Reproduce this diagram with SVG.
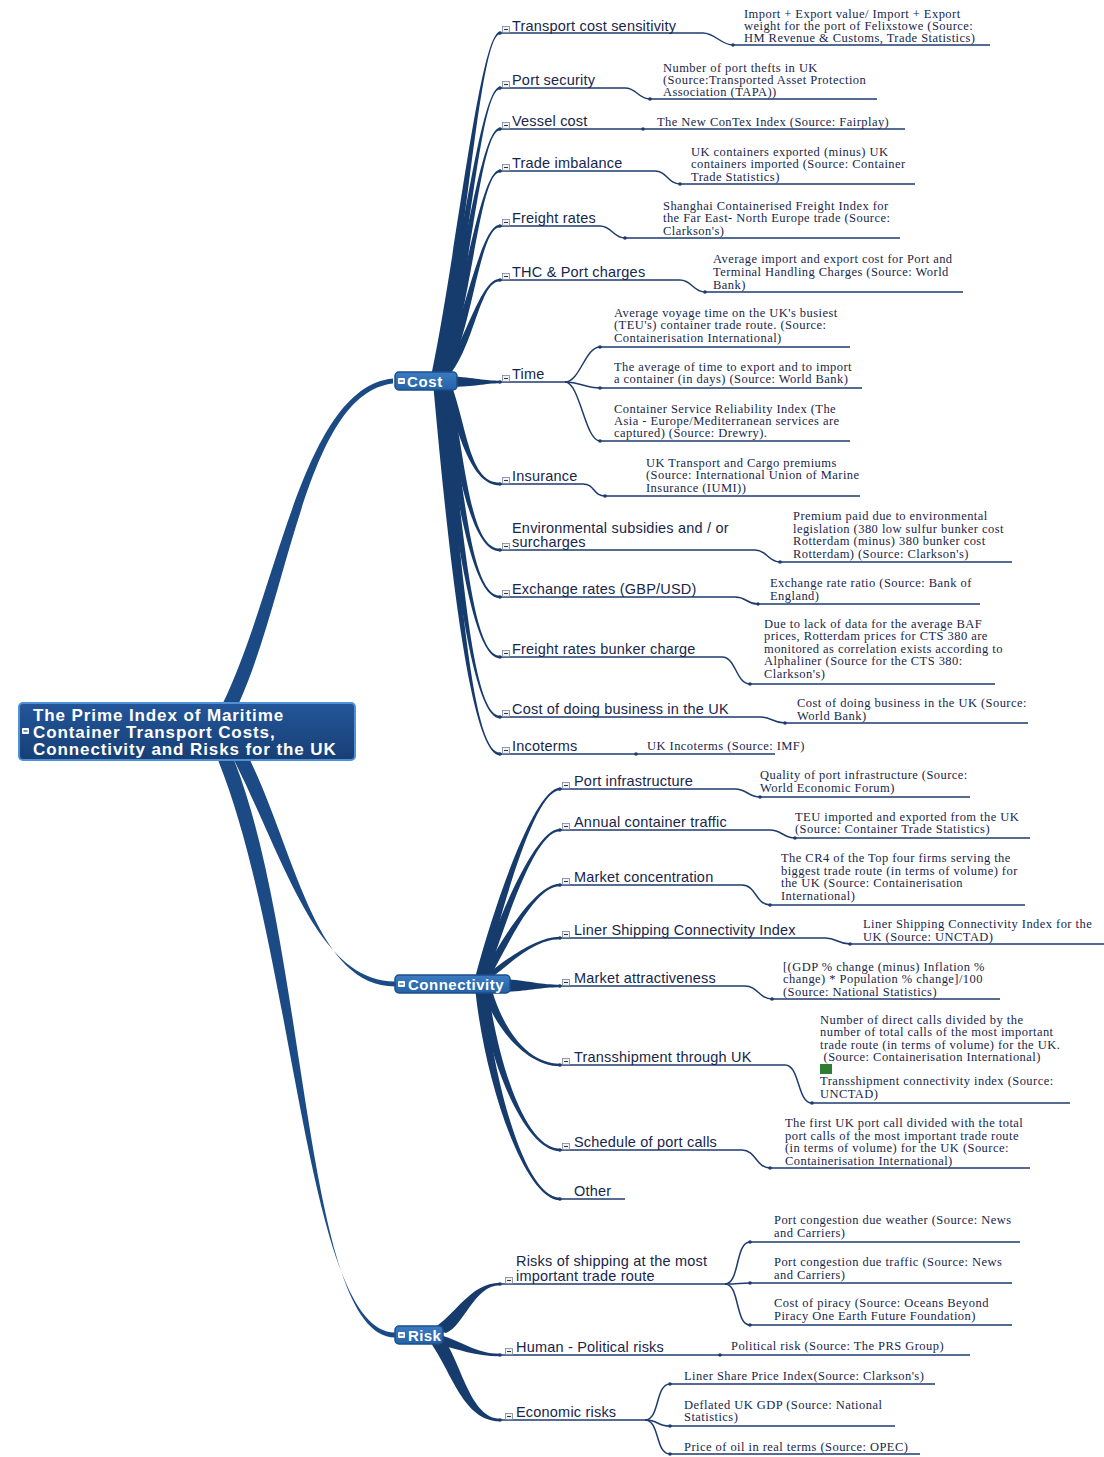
<svg xmlns="http://www.w3.org/2000/svg" xmlns:xlink="http://www.w3.org/1999/xlink" width="1104" height="1457" viewBox="0 0 1104 1457">
<defs>
<style>
.lbl{font-family:"Liberation Sans",Arial,sans-serif;font-size:14.5px;letter-spacing:0.2px;fill:#18264a}
.src{font-family:"Liberation Serif","Times New Roman",serif;font-size:12.5px;letter-spacing:0.45px;fill:#18264a}
.ul{fill:none;stroke:#1f3b6e;stroke-width:1.5}
.br{fill:#163b6d}
.rt{fill:#1b4a85}
.dot{fill:#1f3b6e}
.mt{font-family:"Liberation Sans",Arial,sans-serif;font-weight:bold;fill:#ffffff}
</style>
<linearGradient id="gRoot" x1="0" y1="0" x2="0" y2="1"><stop offset="0" stop-color="#24569a"/><stop offset="1" stop-color="#173f75"/></linearGradient>
<linearGradient id="gMain" x1="0" y1="0" x2="0" y2="1"><stop offset="0" stop-color="#3a7cc2"/><stop offset="1" stop-color="#2562a6"/></linearGradient>
<symbol id="col"><rect x="0.5" y="0.5" width="7" height="6" fill="#eef1f5" stroke="#7a8599" stroke-width="0.8"/><line x1="2" y1="3.5" x2="6" y2="3.5" stroke="#333" stroke-width="1"/></symbol>
<symbol id="colw"><rect x="0" y="0" width="7" height="6" rx="1" fill="#ffffff"/><line x1="1.5" y1="3" x2="5.5" y2="3" stroke="#1b4a85" stroke-width="1.2"/></symbol>
</defs>
<rect width="1104" height="1457" fill="#ffffff"/>

<g id="connectors">
<!-- root to main topics -->
<path class="rt" d="M223,703 C278,590 303,387 393,378.5 L393,383.5 C307,393 290,590 239,703 Z"/>
<path class="rt" d="M234,760 C286,864 318,981.5 395,981.5 L395,986.5 C316,986.5 296,856 250,760 Z"/>
<path class="rt" d="M218,760 C296,954 306,1332.5 395,1332.5 L395,1337.5 C304,1337.5 308,946 234,760 Z"/>
<!-- Cost fan -->
<path class="br" d="M431.5,374 C456.5,255 480,31.7 500,31.7 L500,34.3 C480,34.3 465.5,255 440.5,374 Z"/>
<path class="br" d="M433.5,374 C458.5,274 480,86.7 500,86.7 L500,89.3 C480,89.3 467.5,274 442.5,374 Z"/>
<path class="br" d="M435.5,374 C460.5,288 480,127.7 500,127.7 L500,130.3 C480,130.3 469.5,288 444.5,374 Z"/>
<path class="br" d="M437.5,374 C462.5,303 480,169.7 500,169.7 L500,172.3 C480,172.3 471.5,303 446.5,374 Z"/>
<path class="br" d="M439.5,374 C464.5,322 480,224.7 500,224.7 L500,227.3 C480,227.3 473.5,322 448.5,374 Z"/>
<path class="br" d="M441.5,374 C466.5,341 480,278.7 500,278.7 L500,281.3 C480,281.3 475.5,341 450.5,374 Z"/>
<path class="br" d="M450,376 C475,378 485,380.7 500,380.7 L500,383.3 C485,383.3 475,387 450,387 Z"/>
<path class="br" d="M443.5,388 C458.5,431 470,485.3 500,485.3 L500,482.7 C470,482.7 467.5,431 452.5,388 Z"/>
<path class="br" d="M441.5,388 C456.5,461 470,551.3 500,551.3 L500,548.7 C470,548.7 465.5,461 450.5,388 Z"/>
<path class="br" d="M439.5,388 C454.5,482 470,598.3 500,598.3 L500,595.7 C470,595.7 463.5,482 448.5,388 Z"/>
<path class="br" d="M437.5,388 C452.5,509 470,658.3 500,658.3 L500,655.7 C470,655.7 461.5,509 446.5,388 Z"/>
<path class="br" d="M435.5,388 C450.5,536 470,718.3 500,718.3 L500,715.7 C470,715.7 459.5,536 444.5,388 Z"/>
<path class="br" d="M433.5,388 C448.5,553 470,755.3 500,755.3 L500,752.7 C470,752.7 457.5,553 442.5,388 Z"/>
<!-- Connectivity fan -->
<path class="br" d="M475.5,976 C495.5,901 535,787.7 560,787.7 L560,790.3 C535,790.3 504.5,901 484.5,976 Z"/>
<path class="br" d="M478.5,976 C498.5,918 535,828.7 560,828.7 L560,831.3 C535,831.3 507.5,918 487.5,976 Z"/>
<path class="br" d="M481.5,976 C501.5,940 535,883.7 560,883.7 L560,886.3 C535,886.3 510.5,940 490.5,976 Z"/>
<path class="br" d="M484.5,976 C504.5,961 535,936.7 560,936.7 L560,939.3 C535,939.3 513.5,961 493.5,976 Z"/>
<path class="br" d="M505,979 C530,981 540,984.7 560,984.7 L560,987.3 C540,987.3 530,991 505,992 Z"/>
<path class="br" d="M483.5,992 C493.5,1025 525,1066.3 560,1066.3 L560,1063.7 C525,1063.7 502.5,1025 492.5,992 Z"/>
<path class="br" d="M479.5,992 C489.5,1063 525,1151.3 560,1151.3 L560,1148.7 C525,1148.7 498.5,1063 488.5,992 Z"/>
<path class="br" d="M475.5,992 C485.5,1085 525,1200.3 560,1200.3 L560,1197.7 C525,1197.7 494.5,1085 484.5,992 Z"/>
<!-- Risk fan -->
<path class="br" d="M432,1329 C455,1316 470,1282.7 500,1282.7 L500,1285.3 C474,1285.3 464,1326 446,1333 Z"/>
<path class="br" d="M440,1335 C462,1341 475,1353.7 500,1353.7 L500,1356.3 C475,1356.3 458,1349 440,1345 Z"/>
<path class="br" d="M430,1342 C452,1372 463,1421.3 500,1421.3 L500,1418.7 C472,1418.7 462,1368 446,1342 Z"/>

<!-- Cost underlines -->
<path class="ul" d="M500,33 H703 C715,33 721,45 733,45 H990"/>
<path class="ul" d="M500,88 H625 C637,88 638,99 650,99 H877"/>
<path class="ul" d="M500,129 H905"/>
<path class="ul" d="M500,171 H655 C667,171 668,184 680,184 H915"/>
<path class="ul" d="M500,226 H600 C612,226 613,238 625,238 H900"/>
<path class="ul" d="M500,280 H680 C692,280 693,292 705,292 H963"/>
<path class="ul" d="M500,382 H565"/>
<path class="ul" d="M565,382 C580,382 585,347 600,347 H850"/>
<path class="ul" d="M565,382 C580,382 585,388 600,388 H862"/>
<path class="ul" d="M565,382 C580,382 585,441 600,441 H850"/>
<path class="ul" d="M500,484 H583 C595,484 593,496 605,496 H860"/>
<path class="ul" d="M500,550 H755 C767,550 768,562 780,562 H1012"/>
<path class="ul" d="M500,597 H735 C747,597 746,604 758,604 H980"/>
<path class="ul" d="M500,657 H722 C736,657 736,684 750,684 H995"/>
<path class="ul" d="M500,717 H760 C772,717 773,723 785,723 H1028"/>
<path class="ul" d="M500,754 H775"/>
<!-- Connectivity underlines -->
<path class="ul" d="M560,789 H735 C747,789 748,797 760,797 H970"/>
<path class="ul" d="M560,830 H770 C782,830 783,838 795,838 H1030"/>
<path class="ul" d="M560,885 H742 C756,885 756,905 770,905 H1025"/>
<path class="ul" d="M560,938 H825 C837,938 838,944 850,944 H1104"/>
<path class="ul" d="M560,986 H745 C758,986 759,999 772,999 H1000"/>
<path class="ul" d="M560,1065 H785 C800,1065 797,1103 812,1103 H1070"/>
<path class="ul" d="M560,1150 H742 C756,1150 756,1168 770,1168 H1030"/>
<path class="ul" d="M560,1199 H625"/>
<!-- Risk underlines -->
<path class="ul" d="M500,1284 H725"/>
<path class="ul" d="M725,1284 C740,1284 735,1242 750,1242 H1020"/>
<path class="ul" d="M725,1284 C738,1284 740,1283 750,1283 H1012"/>
<path class="ul" d="M725,1284 C740,1284 735,1325 750,1325 H1012"/>
<path class="ul" d="M500,1355 H970"/>
<path class="ul" d="M500,1420 H645"/>
<path class="ul" d="M645,1420 C660,1420 655,1384 670,1384 H935"/>
<path class="ul" d="M645,1420 C660,1420 655,1426 670,1426 H895"/>
<path class="ul" d="M645,1420 C660,1420 655,1454 670,1454 H920"/>
<!-- junction dots -->
<g class="dot">
<circle cx="500" cy="33" r="1.8"/><circle cx="733" cy="45" r="1.8"/>
<circle cx="500" cy="88" r="1.8"/><circle cx="650" cy="99" r="1.8"/>
<circle cx="500" cy="129" r="1.8"/><circle cx="643" cy="129" r="1.8"/>
<circle cx="500" cy="171" r="1.8"/><circle cx="680" cy="184" r="1.8"/>
<circle cx="500" cy="226" r="1.8"/><circle cx="625" cy="238" r="1.8"/>
<circle cx="500" cy="280" r="1.8"/><circle cx="705" cy="292" r="1.8"/>
<circle cx="500" cy="382" r="1.8"/><circle cx="600" cy="347" r="1.8"/><circle cx="600" cy="388" r="1.8"/><circle cx="600" cy="441" r="1.8"/>
<circle cx="500" cy="484" r="1.8"/><circle cx="605" cy="496" r="1.8"/>
<circle cx="500" cy="550" r="1.8"/><circle cx="780" cy="562" r="1.8"/>
<circle cx="500" cy="597" r="1.8"/><circle cx="758" cy="604" r="1.8"/>
<circle cx="500" cy="657" r="1.8"/><circle cx="750" cy="684" r="1.8"/>
<circle cx="500" cy="717" r="1.8"/><circle cx="785" cy="723" r="1.8"/>
<circle cx="500" cy="754" r="1.8"/><circle cx="636" cy="754" r="1.8"/>
<circle cx="560" cy="789" r="1.8"/><circle cx="760" cy="797" r="1.8"/>
<circle cx="560" cy="830" r="1.8"/><circle cx="795" cy="838" r="1.8"/>
<circle cx="560" cy="885" r="1.8"/><circle cx="770" cy="905" r="1.8"/>
<circle cx="560" cy="938" r="1.8"/><circle cx="850" cy="944" r="1.8"/>
<circle cx="560" cy="986" r="1.8"/><circle cx="772" cy="999" r="1.8"/>
<circle cx="560" cy="1065" r="1.8"/><circle cx="812" cy="1103" r="1.8"/>
<circle cx="560" cy="1150" r="1.8"/><circle cx="770" cy="1168" r="1.8"/>
<circle cx="560" cy="1199" r="1.8"/>
<circle cx="500" cy="1284" r="1.8"/><circle cx="750" cy="1242" r="1.8"/><circle cx="750" cy="1283" r="1.8"/><circle cx="750" cy="1325" r="1.8"/>
<circle cx="500" cy="1355" r="1.8"/><circle cx="720" cy="1355" r="1.8"/>
<circle cx="500" cy="1420" r="1.8"/><circle cx="670" cy="1384" r="1.8"/><circle cx="670" cy="1426" r="1.8"/><circle cx="670" cy="1454" r="1.8"/>
</g>
</g>

<!-- Root -->
<g id="root">
<rect x="19" y="703" width="336" height="57" rx="4" fill="url(#gRoot)" stroke="#4f90d6" stroke-width="2"/>
<use xlink:href="#colw" x="22" y="728" width="7" height="6"/>
<text class="mt" font-size="17" letter-spacing="0.9" x="33" y="721">The Prime Index of Maritime</text>
<text class="mt" font-size="17" letter-spacing="0.9" x="33" y="738">Container Transport Costs,</text>
<text class="mt" font-size="17" letter-spacing="0.9" x="33" y="755">Connectivity and Risks for the UK</text>
</g>

<g id="cost">
<rect x="395" y="372" width="62" height="18" rx="4" fill="url(#gMain)" stroke="#1d4f8a" stroke-width="1.5"/>
<use xlink:href="#colw" x="398" y="378" width="7" height="6"/>
<text class="mt" font-size="15" letter-spacing="0.6" x="407" y="386.5">Cost</text>
</g>
<g id="connectivity">
<rect x="395" y="975" width="115" height="18" rx="4" fill="url(#gMain)" stroke="#1d4f8a" stroke-width="1.5"/>
<use xlink:href="#colw" x="398" y="981" width="7" height="6"/>
<text class="mt" font-size="15" letter-spacing="0.5" x="408" y="989.5">Connectivity</text>
</g>
<g id="risk">
<rect x="395" y="1326" width="48" height="18" rx="4" fill="url(#gMain)" stroke="#1d4f8a" stroke-width="1.5"/>
<use xlink:href="#colw" x="398" y="1332" width="7" height="6"/>
<text class="mt" font-size="15" letter-spacing="0.4" x="408" y="1340.5">Risk</text>
</g>

<!-- Cost branches -->
<g id="n-transport"><use xlink:href="#col" x="502" y="26" width="8" height="7"/><text class="lbl" x="512" y="31">Transport cost sensitivity</text></g>
<g id="s-transport"><text class="src"><tspan x="744" y="18">Import + Export value/ Import + Export</tspan><tspan x="744" y="30">weight for the port of Felixstowe (Source:</tspan><tspan x="744" y="42">HM Revenue &amp; Customs, Trade Statistics)</tspan></text></g>

<g id="n-portsec"><use xlink:href="#col" x="502" y="81" width="8" height="7"/><text class="lbl" x="512" y="85">Port security</text></g>
<g id="s-portsec"><text class="src"><tspan x="663" y="72">Number of port thefts in UK</tspan><tspan x="663" y="84">(Source:Transported Asset Protection</tspan><tspan x="663" y="96">Association (TAPA))</tspan></text></g>

<g id="n-vessel"><use xlink:href="#col" x="502" y="122" width="8" height="7"/><text class="lbl" x="512" y="126">Vessel cost</text></g>
<g id="s-vessel"><text class="src" x="657" y="126">The New ConTex Index (Source: Fairplay)</text></g>

<g id="n-trade"><use xlink:href="#col" x="502" y="164" width="8" height="7"/><text class="lbl" x="512" y="168">Trade imbalance</text></g>
<g id="s-trade"><text class="src"><tspan x="691" y="156">UK containers exported (minus) UK</tspan><tspan x="691" y="168">containers imported (Source: Container</tspan><tspan x="691" y="181">Trade Statistics)</tspan></text></g>

<g id="n-freight"><use xlink:href="#col" x="502" y="219" width="8" height="7"/><text class="lbl" x="512" y="223">Freight rates</text></g>
<g id="s-freight"><text class="src"><tspan x="663" y="210">Shanghai Containerised Freight Index for</tspan><tspan x="663" y="222">the Far East- North Europe trade (Source:</tspan><tspan x="663" y="235">Clarkson's)</tspan></text></g>

<g id="n-thc"><use xlink:href="#col" x="502" y="273" width="8" height="7"/><text class="lbl" x="512" y="277">THC &amp; Port charges</text></g>
<g id="s-thc"><text class="src"><tspan x="713" y="263">Average import and export cost for Port and</tspan><tspan x="713" y="276">Terminal Handling Charges (Source: World</tspan><tspan x="713" y="289">Bank)</tspan></text></g>

<g id="n-time"><use xlink:href="#col" x="502" y="375" width="8" height="7"/><text class="lbl" x="512" y="379">Time</text></g>
<g id="s-time1"><text class="src"><tspan x="614" y="317">Average voyage time on the UK's busiest</tspan><tspan x="614" y="329">(TEU's) container trade route. (Source:</tspan><tspan x="614" y="342">Containerisation International)</tspan></text></g>
<g id="s-time2"><text class="src"><tspan x="614" y="371">The average of time to export and to import</tspan><tspan x="614" y="383">a container (in days) (Source: World Bank)</tspan></text></g>
<g id="s-time3"><text class="src"><tspan x="614" y="413">Container Service Reliability Index (The</tspan><tspan x="614" y="425">Asia - Europe/Mediterranean services are</tspan><tspan x="614" y="437">captured) (Source: Drewry).</tspan></text></g>

<g id="n-insurance"><use xlink:href="#col" x="502" y="477" width="8" height="7"/><text class="lbl" x="512" y="481">Insurance</text></g>
<g id="s-insurance"><text class="src"><tspan x="646" y="467">UK Transport and Cargo premiums</tspan><tspan x="646" y="479">(Source: International Union of Marine</tspan><tspan x="646" y="492">Insurance (IUMI))</tspan></text></g>

<g id="n-env"><use xlink:href="#col" x="502" y="543" width="8" height="7"/><text class="lbl"><tspan x="512" y="533">Environmental subsidies and / or</tspan><tspan x="512" y="547">surcharges</tspan></text></g>
<g id="s-env"><text class="src"><tspan x="793" y="520">Premium paid due to environmental</tspan><tspan x="793" y="533">legislation (380 low sulfur bunker cost</tspan><tspan x="793" y="545">Rotterdam (minus) 380 bunker cost</tspan><tspan x="793" y="558">Rotterdam) (Source: Clarkson's)</tspan></text></g>

<g id="n-exchange"><use xlink:href="#col" x="502" y="590" width="8" height="7"/><text class="lbl" x="512" y="594">Exchange rates (GBP/USD)</text></g>
<g id="s-exchange"><text class="src"><tspan x="770" y="587">Exchange rate ratio (Source: Bank of</tspan><tspan x="770" y="600">England)</tspan></text></g>

<g id="n-bunker"><use xlink:href="#col" x="502" y="650" width="8" height="7"/><text class="lbl" x="512" y="654">Freight rates bunker charge</text></g>
<g id="s-bunker"><text class="src"><tspan x="764" y="628">Due to lack of data for the average BAF</tspan><tspan x="764" y="640">prices, Rotterdam prices for CTS 380 are</tspan><tspan x="764" y="653">monitored as correlation exists according to</tspan><tspan x="764" y="665">Alphaliner (Source for the CTS 380:</tspan><tspan x="764" y="678">Clarkson's)</tspan></text></g>

<g id="n-business"><use xlink:href="#col" x="502" y="710" width="8" height="7"/><text class="lbl" x="512" y="714">Cost of doing business in the UK</text></g>
<g id="s-business"><text class="src"><tspan x="797" y="707">Cost of doing business in the UK (Source:</tspan><tspan x="797" y="720">World Bank)</tspan></text></g>

<g id="n-incoterms"><use xlink:href="#col" x="502" y="747" width="8" height="7"/><text class="lbl" x="512" y="751">Incoterms</text></g>
<g id="s-incoterms"><text class="src" x="647" y="750">UK Incoterms (Source: IMF)</text></g>

<!-- Connectivity branches -->
<g id="n-portinfra"><use xlink:href="#col" x="562" y="782" width="8" height="7"/><text class="lbl" x="574" y="786">Port infrastructure</text></g>
<g id="s-portinfra"><text class="src"><tspan x="760" y="779">Quality of port infrastructure (Source:</tspan><tspan x="760" y="792">World Economic Forum)</tspan></text></g>

<g id="n-annual"><use xlink:href="#col" x="562" y="823" width="8" height="7"/><text class="lbl" x="574" y="827">Annual container traffic</text></g>
<g id="s-annual"><text class="src"><tspan x="795" y="821">TEU imported and exported from the UK</tspan><tspan x="795" y="833">(Source: Container Trade Statistics)</tspan></text></g>

<g id="n-marketconc"><use xlink:href="#col" x="562" y="878" width="8" height="7"/><text class="lbl" x="574" y="882">Market concentration</text></g>
<g id="s-marketconc"><text class="src"><tspan x="781" y="862">The CR4 of the Top four firms serving the</tspan><tspan x="781" y="875">biggest trade route (in terms of volume) for</tspan><tspan x="781" y="887">the UK (Source: Containerisation</tspan><tspan x="781" y="900">International)</tspan></text></g>

<g id="n-lsci"><use xlink:href="#col" x="562" y="931" width="8" height="7"/><text class="lbl" x="574" y="935">Liner Shipping Connectivity Index</text></g>
<g id="s-lsci"><text class="src"><tspan x="863" y="928">Liner Shipping Connectivity Index for the</tspan><tspan x="863" y="941">UK (Source: UNCTAD)</tspan></text></g>

<g id="n-attract"><use xlink:href="#col" x="562" y="979" width="8" height="7"/><text class="lbl" x="574" y="983">Market attractiveness</text></g>
<g id="s-attract"><text class="src"><tspan x="783" y="971">[(GDP % change (minus) Inflation %</tspan><tspan x="783" y="983">change) * Population % change]/100</tspan><tspan x="783" y="996">(Source: National Statistics)</tspan></text></g>

<g id="n-tranship"><use xlink:href="#col" x="562" y="1058" width="8" height="7"/><text class="lbl" x="574" y="1062">Transshipment through UK</text></g>
<g id="s-tranship"><text class="src"><tspan x="820" y="1024">Number of direct calls divided by the</tspan><tspan x="820" y="1036">number of total calls of the most important</tspan><tspan x="820" y="1049">trade route (in terms of volume) for the UK.</tspan><tspan x="820" y="1061"> (Source: Containerisation International)</tspan><tspan x="820" y="1085">Transshipment connectivity index (Source:</tspan><tspan x="820" y="1098">UNCTAD)</tspan></text>
<rect x="820" y="1064" width="12" height="10" fill="#2e7d32"/></g>

<g id="n-schedule"><use xlink:href="#col" x="562" y="1143" width="8" height="7"/><text class="lbl" x="574" y="1147">Schedule of port calls</text></g>
<g id="s-schedule"><text class="src"><tspan x="785" y="1127">The first UK port call divided with the total</tspan><tspan x="785" y="1140">port calls of the most important trade route</tspan><tspan x="785" y="1152">(in terms of volume) for the UK (Source:</tspan><tspan x="785" y="1165">Containerisation International)</tspan></text></g>

<g id="n-other"><text class="lbl" x="574" y="1196">Other</text></g>

<!-- Risk branches -->
<g id="n-shipping"><use xlink:href="#col" x="505" y="1277" width="8" height="7"/><text class="lbl"><tspan x="516" y="1266">Risks of shipping at the most</tspan><tspan x="516" y="1281">important trade route</tspan></text></g>
<g id="s-weather"><text class="src"><tspan x="774" y="1224">Port congestion due weather (Source: News</tspan><tspan x="774" y="1237">and Carriers)</tspan></text></g>
<g id="s-traffic"><text class="src"><tspan x="774" y="1266">Port congestion due traffic (Source: News</tspan><tspan x="774" y="1279">and Carriers)</tspan></text></g>
<g id="s-piracy"><text class="src"><tspan x="774" y="1307">Cost of piracy (Source: Oceans Beyond</tspan><tspan x="774" y="1320">Piracy One Earth Future Foundation)</tspan></text></g>

<g id="n-human"><use xlink:href="#col" x="505" y="1348" width="8" height="7"/><text class="lbl" x="516" y="1352">Human - Political risks</text></g>
<g id="s-human"><text class="src" x="731" y="1350">Political risk (Source: The PRS Group)</text></g>

<g id="n-economic"><use xlink:href="#col" x="505" y="1413" width="8" height="7"/><text class="lbl" x="516" y="1417">Economic risks</text></g>
<g id="s-liner"><text class="src" x="684" y="1380">Liner Share Price Index(Source: Clarkson's)</text></g>
<g id="s-gdp"><text class="src"><tspan x="684" y="1409">Deflated UK GDP (Source: National</tspan><tspan x="684" y="1421">Statistics)</tspan></text></g>
<g id="s-oil"><text class="src" x="684" y="1451">Price of oil in real terms (Source: OPEC)</text></g>
</svg>
